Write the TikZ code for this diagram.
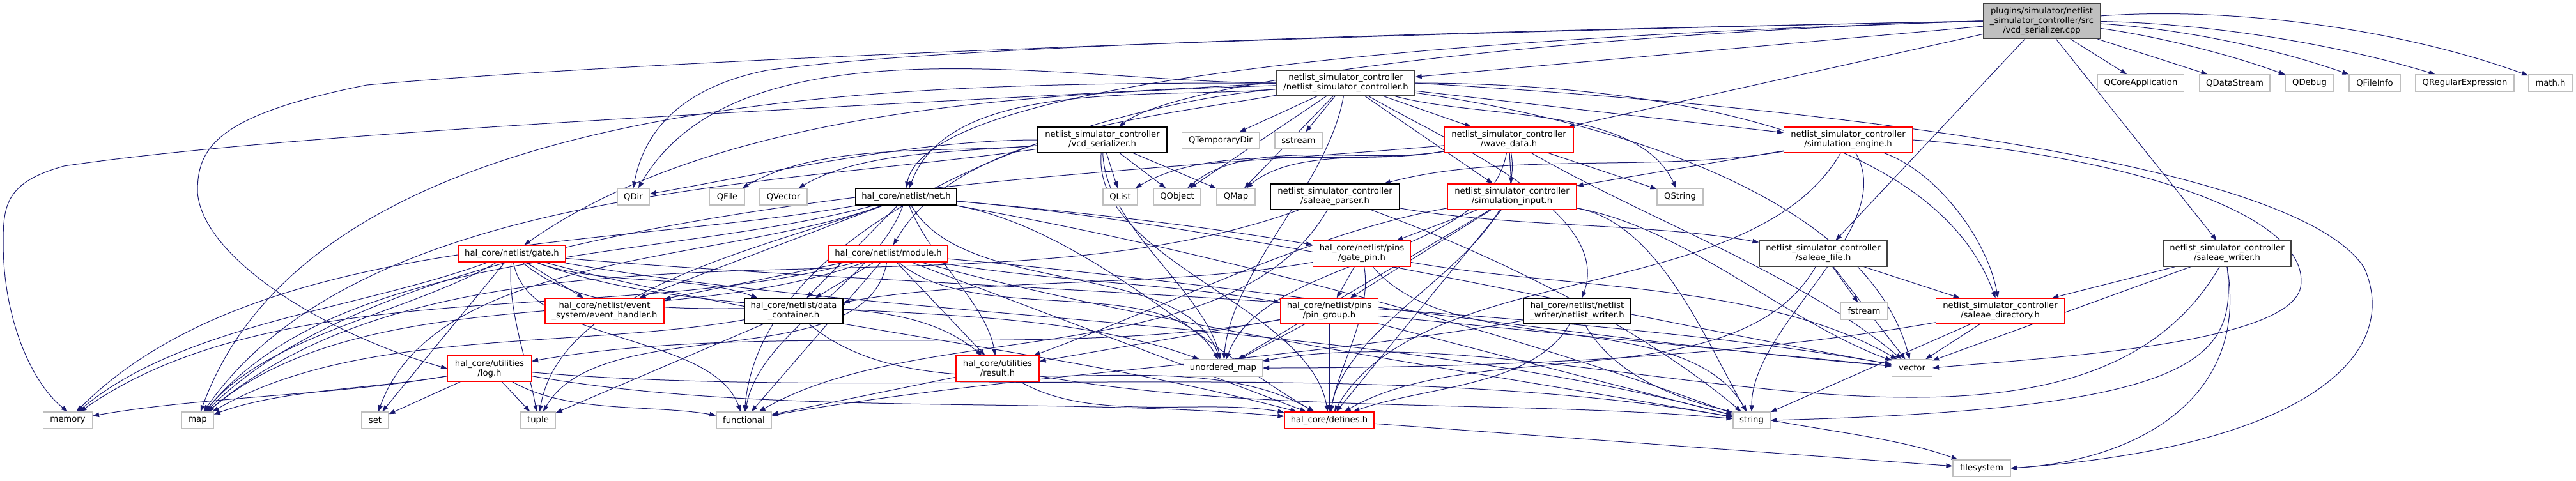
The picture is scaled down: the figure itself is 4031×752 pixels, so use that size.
\documentclass[tikz,border=0pt]{standalone}
\usepackage{fontspec}
\setmainfont{DejaVu Sans}
\usetikzlibrary{arrows.meta,backgrounds}
\definecolor{edgec}{HTML}{191970}
\definecolor{extc}{HTML}{BFBFBF}
\definecolor{dkc}{HTML}{404040}
\definecolor{rootfill}{HTML}{BFBFBF}
\tikzset{
  box/.style={draw, fill=white, align=center, inner sep=0pt, font=\fontsize{6.6}{7.5}\selectfont, line width=0.6pt},
  ext/.style={box, draw=extc, minimum height=13pt},
  hdr/.style={box, draw=black},
  dk/.style={box, draw=dkc},
  rd/.style={box, draw=red},
  one/.style={minimum height=13pt},
  two/.style={minimum height=20pt},
  e/.style={draw=edgec, line width=0.5pt, looseness=0.8, -{Triangle[length=5pt,width=3.6pt]}}
}
\begin{document}
\begin{tikzpicture}[x=0.5pt,y=-0.5pt]
\useasboundingbox (0,0) rectangle (4031,752);
% nodes
\node[box, draw=dkc, fill=rootfill, minimum width=91.5pt, minimum height=27.5pt] (R) at (3195,33) {plugins/simulator/netlist\\\_simulator\_controller/src\\/vcd\_serializer.cpp};
\node[ext, minimum width=67.5pt] (QCore) at (3350,130) {QCoreApplication};
\node[ext, minimum width=55pt] (QData) at (3497,130) {QDataStream};
\node[ext, minimum width=37.5pt] (QDebug) at (3614,130) {QDebug};
\node[ext, minimum width=40pt] (QFileInfo) at (3716,130) {QFileInfo};
\node[ext, minimum width=77pt] (QRegEx) at (3857,130) {QRegularExpression};
\node[ext, minimum width=34.5pt] (math) at (3991,130) {math.h};
\node[dk, two, minimum width=108pt] (nsc) at (2106,130) {netlist\_simulator\_controller\\/netlist\_simulator\_controller.h};
\node[hdr, two, minimum width=101pt] (vcdh) at (1725,219) {netlist\_simulator\_controller\\/vcd\_serializer.h};
\node[ext, minimum width=60.5pt] (QTemp) at (1910,220) {QTemporaryDir};
\node[ext, minimum width=37pt] (sstream) at (2032,220) {sstream};
\node[rd, two, minimum width=101pt] (wave) at (2361,219) {netlist\_simulator\_controller\\/wave\_data.h};
\node[rd, two, minimum width=100.5pt] (simeng) at (2892,219) {netlist\_simulator\_controller\\/simulation\_engine.h};
\node[ext, minimum width=25pt] (QDir) at (991,308) {QDir};
\node[ext, minimum width=27.5pt] (QFile) at (1138,308) {QFile};
\node[ext, minimum width=37pt] (QVector) at (1226,308) {QVector};
\node[hdr, one, minimum width=79pt] (net) at (1418,308) {hal\_core/netlist/net.h};
\node[ext, minimum width=27pt] (QList) at (1753,308) {QList};
\node[ext, minimum width=37pt] (QObject) at (1842,308) {QObject};
\node[ext, minimum width=30pt] (QMap) at (1934,308) {QMap};
\node[hdr, two, minimum width=100.5pt] (sparser) at (2089,308) {netlist\_simulator\_controller\\/saleae\_parser.h};
\node[rd, two, minimum width=101pt] (siminput) at (2366,308) {netlist\_simulator\_controller\\/simulation\_input.h};
\node[ext, minimum width=36pt] (QString) at (2629,308) {QString};
\node[rd, one, minimum width=84pt] (gate) at (801,397) {hal\_core/netlist/gate.h};
\node[rd, one, minimum width=93pt] (module) at (1390,397) {hal\_core/netlist/module.h};
\node[rd, two, minimum width=76.5pt] (gatepin) at (2131,397) {hal\_core/netlist/pins\\/gate\_pin.h};
\node[dk, two, minimum width=100pt] (sfile) at (2853,397) {netlist\_simulator\_controller\\/saleae\_file.h};
\node[dk, two, minimum width=100pt] (swriter) at (3485,397) {netlist\_simulator\_controller\\/saleae\_writer.h};
\node[rd, two, minimum width=93pt] (evh) at (946,487) {hal\_core/netlist/event\\\_system/event\_handler.h};
\node[hdr, two, minimum width=77pt] (dc) at (1242,487) {hal\_core/netlist/data\\\_container.h};
\node[rd, two, minimum width=76.5pt] (pingroup) at (2080,487) {hal\_core/netlist/pins\\/pin\_group.h};
\node[hdr, two, minimum width=84pt] (nwriter) at (2468,487) {hal\_core/netlist/netlist\\\_writer/netlist\_writer.h};
\node[ext, minimum width=36.5pt] (fstream) at (2917,487) {fstream};
\node[rd, two, minimum width=100.5pt] (sdir) at (3130,487) {netlist\_simulator\_controller\\/saleae\_directory.h};
\node[rd, two, minimum width=65.5pt] (log) at (766,577) {hal\_core/utilities\\/log.h};
\node[rd, two, minimum width=65pt] (result) at (1561,577) {hal\_core/utilities\\/result.h};
\node[ext, minimum width=61.5pt] (umap) at (1914,576) {unordered\_map};
\node[ext, minimum width=31.5pt] (vector) at (2992,576) {vector};
\node[ext, minimum width=38.5pt] (memory) at (106,658) {memory};
\node[ext, minimum width=25pt] (map) at (309,658) {map};
\node[ext, minimum width=21pt] (set) at (587,658) {set};
\node[ext, minimum width=27pt] (tuple) at (842,658) {tuple};
\node[ext, minimum width=43pt] (functional) at (1164,658) {functional};
\node[rd, one, minimum width=70pt] (defines) at (2080,658) {hal\_core/defines.h};
\node[ext, minimum width=29pt] (string) at (2741,658) {string};
\node[ext, minimum width=45pt] (filesystem) at (3101,733) {filesystem};
% edges
\begin{pgfonlayer}{background}
% root
\foreach \t in {nsc,wave,sfile,swriter,QCore,QData} \draw[e] (R) -- (\t);
\draw[e] (R.west) .. controls (2500,50) and (1850,120) .. (vcdh);
\draw[e] (R.west) .. controls (2200,60) and (1450,130) .. (net.north);
\draw[e] (R) to[bend left=6] (QDebug);
\draw[e] (R) to[bend left=8] (QFileInfo);
\draw[e] (R) to[bend left=8] (QRegEx);
\draw[e] (R) to[bend left=12] (math);
\draw[e] (R.west) .. controls (2000,55) and (1000,95) .. (574,133) .. controls (340,180) and (309,230) .. (309,300) .. controls (315,400) and (500,520) .. (log.west);
\draw[e] (R.west) .. controls (1700,60) and (1350,90) .. (1200,110) .. controls (1050,140) and (1005,220) .. (QDir.north);
% netlist_simulator_controller.h
\draw[e] (nsc.west) .. controls (1500,160) and (500,200) .. (100,260) .. controls (10,285) and (5,320) .. (5,380) .. controls (5,500) and (50,600) .. (memory.north);
\draw[e] (nsc.east) .. controls (2900,170) and (3600,260) .. (3700,420) .. controls (3760,560) and (3600,700) .. (filesystem.east);
\foreach \t in {QTemp,sstream,QObject,QMap,wave,siminput,simeng} \draw[e] (nsc) -- (\t);
\foreach \t/\o/\i in {map/180/70,functional/185/85,QDir/180/60,net/185/70,module/190/60,gate/182/35,QString/-15/115,sdir/0/110,nwriter/-30/70,vector/-8/105,umap/-100/85}
  \draw[e] (nsc) to[out=\o,in=\i] (\t);
% vcd_serializer.h
\foreach \t in {QList,QObject,QMap} \draw[e] (vcdh) -- (\t);
\foreach \t/\o/\i in {QDir/180/10,QFile/185/30,QVector/185/30,defines/-95/100,umap/-88/105,map/188/55}
  \draw[e] (vcdh) to[out=\o,in=\i] (\t);
% net.h
\foreach \t in {dc,evh} \draw[e] (net) -- (\t);
\foreach \t/\o/\i in {gatepin/-5/170,defines/-10/150,memory/190/45,map/195/50,set/200/70,functional/-110/80,umap/-60/110,string/-10/160,vector/-5/170,tuple/200/80,result/-70/100}
  \draw[e] (net) to[out=\o,in=\i] (\t);
% gate.h
\foreach \t in {evh,set} \draw[e] (gate) -- (\t);
\foreach \t/\o/\i in {dc/-20/160,defines/-15/165,umap/-20/160,memory/200/40,map/210/50,functional/-80/110,tuple/-95/100,result/-40/140}
  \draw[e] (gate) to[out=\o,in=\i] (\t);
\draw[e] (gate) .. controls +(-10:300pt) and +(165:300pt) .. (string);
\draw[e] (gate) .. controls +(-5:300pt) and +(170:300pt) .. (vector);
% module.h
\foreach \t in {dc,evh,result,defines,functional} \draw[e] (module) -- (\t);
\foreach \t/\o/\i in {pingroup/-10/170,map/200/40,memory/195/35,umap/-40/120,tuple/-100/60,string/-15/170,vector/-5/175}
  \draw[e] (module) to[out=\o,in=\i] (\t);
% data_container.h
\draw[e] (dc) -- (tuple);
\draw[e] (dc) to[out=-40,in=150] (defines);
\draw[e] (dc) to[out=190,in=30] (map);
% log.h
\foreach \t in {set,tuple} \draw[e] (log) -- (\t);
\foreach \t/\o/\i in {memory/190/10,map/190/20,functional/-30/170,defines/-10/175}
  \draw[e] (log) to[out=\o,in=\i] (\t);
\draw[e] (log) .. controls +(-5:300pt) and +(170:300pt) .. (string);
% result.h
\draw[e] (result) -- (functional);
\draw[e] (result) to[out=-30,in=170] (defines);
\draw[e] (result) to[out=-10,in=175] (string);
% gate_pin.h
\draw[e] (gatepin) -- (pingroup);
\draw[e] (gatepin) to[out=-80,in=80] (defines);
\draw[e] (gatepin) to[out=190,in=10] (dc);
\draw[e] (gatepin) to[out=-50,in=120] (string);
\draw[e] (gatepin) to[out=-10,in=150] (vector);
% pin_group.h
\foreach \t in {defines,result,umap,string,vector} \draw[e] (pingroup) -- (\t);
\draw[e] (pingroup) to[out=190,in=10] (log);
% netlist_writer.h
\draw[e] (nwriter) to[out=-120,in=20] (defines);
\draw[e] (nwriter) to[out=-60,in=160] (filesystem);
\draw[e] (nwriter) to[out=190,in=10] (functional);
% wave_data.h
\foreach \t in {siminput,QString} \draw[e] (wave) -- (\t);
\foreach \t/\o/\i in {QList/190/30,QObject/190/40,QMap/190/40,defines/-80/80,vector/-30/140,umap/-100/70}
  \draw[e] (wave) to[out=\o,in=\i] (\t);
\draw[e] (wave) .. controls +(185:320pt) and +(45:250pt) .. (map);
% simulation_input.h
\foreach \t in {gatepin,pingroup,defines,umap} \draw[e] (siminput) -- (\t);
\draw[e] (siminput) to[out=-10,in=120] (string);
\draw[e] (siminput) to[out=-10,in=160] (vector);
\draw[e] (siminput) to[out=190,in=20] (result);
% simulation_engine.h
\draw[e] (simeng) -- (siminput);
\draw[e] (simeng) to[out=190,in=15] (sparser);
\draw[e] (simeng) to[out=-120,in=60] (defines);
\draw[e] (simeng) to[out=-60,in=90] (string);
\draw[e] (simeng) to[out=-20,in=100] (sdir);
\draw[e] (simeng.east) .. controls (3300,240) and (3620,330) .. (3600,450) .. controls (3580,540) and (3200,560) .. (vector.east);
% saleae_parser.h
\draw[e] (sparser) to[out=-10,in=170] (sfile);
\draw[e] (sparser) to[out=200,in=40] (map);
\draw[e] (sparser) to[out=-20,in=140] (string);
\draw[e] (sparser) to[out=-120,in=30] (functional);
% saleae_file.h
\foreach \t in {sdir,fstream,vector} \draw[e] (sfile) -- (\t);
\draw[e] (sfile) to[out=-120,in=30] (defines);
% saleae_writer.h
\foreach \t in {sdir,vector} \draw[e] (swriter) -- (\t);
\draw[e] (swriter) to[out=-120,in=10] (umap);
\draw[e] (swriter.south) .. controls (3500,560) and (3450,640) .. (string.east);
\draw[e] (swriter.south) .. controls (3520,620) and (3350,720) .. (filesystem.east);
% saleae_directory.h
\foreach \t in {vector,string} \draw[e] (sdir) -- (\t);
\draw[e] (sdir) to[out=190,in=0] (umap);
% defines.h
\draw[e] (defines) -- (filesystem);
\end{pgfonlayer}
\end{tikzpicture}
\end{document}
